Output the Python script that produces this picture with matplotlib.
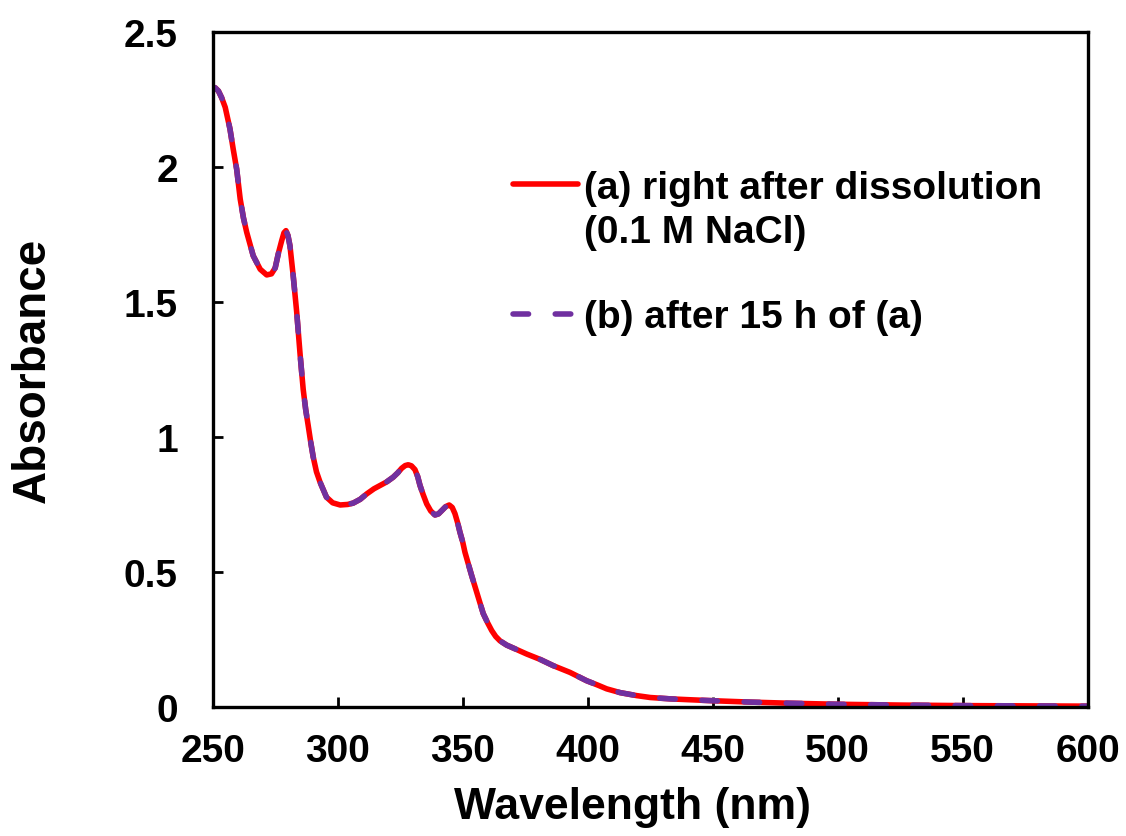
import matplotlib.pyplot as plt

# UV-vis spectrum
wavelength = [250, 251, 252.3, 253.6, 255, 256.9, 258.2, 259.6, 261, 262.3, 263.6,
              266.2, 269, 271.6, 273.5, 275, 276.3, 277.6, 278.5, 279.3, 280.1,
              280.9, 282.2, 283.6, 285, 286.2, 287.2, 288.2, 289.2, 290.2, 291.5,
              293, 295.5, 298, 301, 304, 306.2, 309, 311.6, 314.5, 316.9, 319.5,
              322.2, 324, 325.6, 327, 328.2, 329.5, 330.9, 332, 332.9, 334.2, 335.6,
              337.2, 338.9, 340.3, 341.6, 343.2, 344.6, 345.8, 346.9, 348, 348.9,
              350, 350.9, 352.2, 353.6, 355.6, 358.2, 360, 361.6, 363.2, 364.9,
              367.6, 371.5, 375.6, 381, 386.2, 392.9, 399.6, 404, 407.6, 413,
              419.6, 425, 432.9, 440, 450.2, 465, 480, 500, 525, 550, 575, 600]
absorbance_a = [2.295, 2.292, 2.28, 2.255, 2.22, 2.14, 2.065, 1.99, 1.88, 1.81, 1.757,
                1.67, 1.62, 1.599, 1.603, 1.625, 1.68, 1.726, 1.755, 1.763, 1.745,
                1.707, 1.596, 1.461, 1.30, 1.175, 1.10, 1.041, 0.98, 0.925, 0.87,
                0.83, 0.776, 0.755, 0.747, 0.749, 0.754, 0.768, 0.788, 0.807, 0.819,
                0.832, 0.85, 0.866, 0.883, 0.893, 0.896, 0.892, 0.878, 0.852, 0.82,
                0.785, 0.751, 0.725, 0.71, 0.714, 0.726, 0.741, 0.747, 0.738, 0.715,
                0.68, 0.646, 0.61, 0.572, 0.53, 0.485, 0.424, 0.345, 0.31, 0.282,
                0.26, 0.244, 0.228, 0.212, 0.195, 0.175, 0.152, 0.127, 0.096, 0.08,
                0.066, 0.052, 0.041, 0.034, 0.029, 0.026, 0.022, 0.017, 0.013, 0.009,
                0.006, 0.004, 0.003, 0.002]
# (b) overlaps (a) everywhere in the picture
absorbance_b = list(absorbance_a)

label_a = "(a) right after dissolution"
label_a2 = "(0.1 M NaCl)"
label_b = "(b) after 15 h of (a)"

plt.rcParams['font.family'] = ['Liberation Sans', 'DejaVu Sans']
plt.rcParams['font.weight'] = 'bold'

fig = plt.figure(figsize=(11.26, 8.37), dpi=100)
ax = fig.add_axes([0.1889, 0.1545, 0.7771, 0.8065])

ax.plot(wavelength, absorbance_a, color='#FF0000', lw=4, solid_capstyle='round',
        solid_joinstyle='round', label=label_a)
ax.plot(wavelength, absorbance_b, color='#7030A0', lw=4, dashes=(2.8, 4.8),
        dash_capstyle='round', dash_joinstyle='round', label=label_b)

ax.set_xlim(250, 600)
ax.set_ylim(0, 2.5)
ax.set_xticks([250, 300, 350, 400, 450, 500, 550, 600])
ax.set_yticks([0, 0.5, 1, 1.5, 2, 2.5])
ax.set_yticklabels(['0', '0.5', '1', '1.5', '2', '2.5'])

for sp in ax.spines.values():
    sp.set_linewidth(2.4)
ax.tick_params(direction='in', length=7.5, width=2, labelsize=28)
ax.tick_params(axis='x', pad=19)
ax.tick_params(axis='y', pad=25)

ax.set_xlabel('Wavelength (nm)', fontsize=32, fontweight='bold')
ax.xaxis.set_label_coords(0.480, -0.118)
ax.set_ylabel('Absorbance', fontsize=33, fontweight='bold', labelpad=50)

leg = ax.legend(loc='upper left', bbox_to_anchor=(0.343, 0.795), frameon=False,
                fontsize=28, handlelength=1.67, handletextpad=0.15,
                labelspacing=2.4, borderpad=0, borderaxespad=0)
# second line of label (a), hung under its first line (drawn after the legend)
ax.annotate(label_a2, xy=(0, 0), xycoords=leg.get_texts()[0], xytext=(0, -6),
            textcoords='offset points', ha='left', va='top', fontsize=28,
            fontweight='bold', zorder=6)

fig.savefig('out.png', dpi=100)
